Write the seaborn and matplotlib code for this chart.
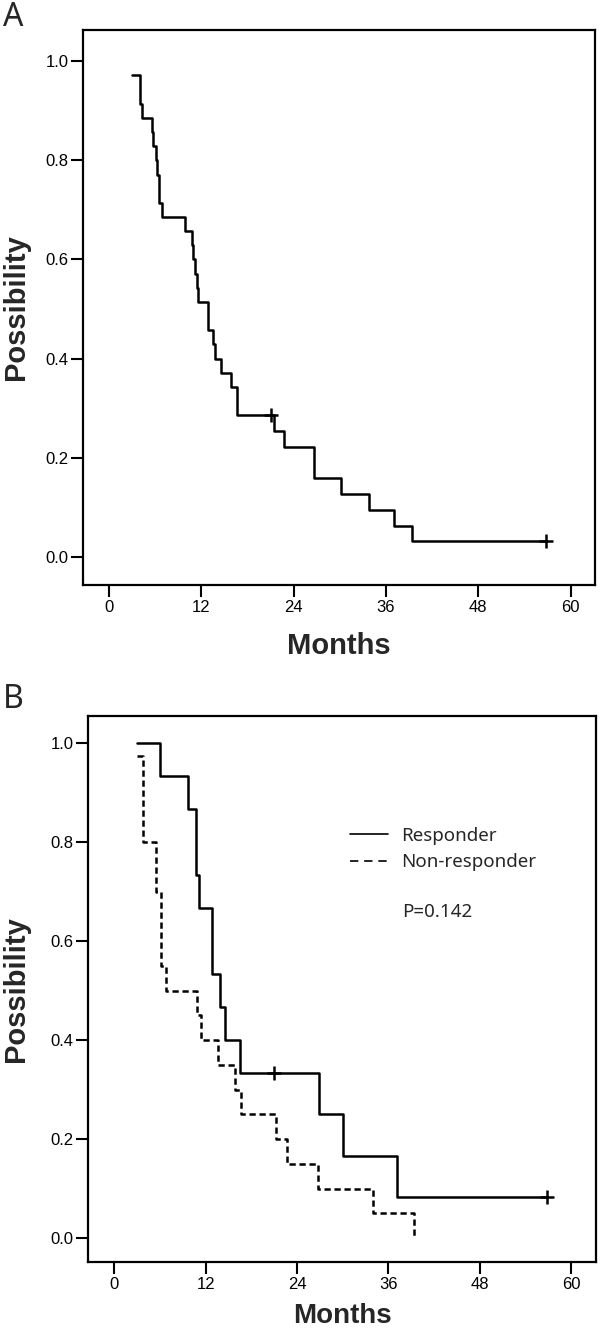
import matplotlib
matplotlib.use("Agg")
import matplotlib.pyplot as plt
import seaborn as sns
import pandas as pd
from matplotlib.lines import Line2D
from matplotlib.ticker import FormatStrFormatter

# panel A: all patients (step times in months, survival after each step)
a_months = [3.0, 4.03, 4.25, 5.55, 5.76, 6.07, 6.28, 6.50, 6.85, 9.88, 10.75, 10.96,
            11.18, 11.40, 11.60, 12.90, 13.48, 13.78, 14.52, 15.85, 16.60, 21.44,
            22.74, 26.68, 30.11, 33.83, 37.08, 39.42, 56.8]
a_surv = [0.971, 0.914, 0.886, 0.857, 0.829, 0.800, 0.771, 0.714, 0.686, 0.657, 0.629,
          0.600, 0.571, 0.543, 0.514, 0.457, 0.429, 0.400, 0.371, 0.343, 0.286, 0.254,
          0.222, 0.159, 0.127, 0.095, 0.063, 0.032, 0.032]
a_cens_months = [21.05, 56.8]
a_cens_surv = [0.286, 0.032]

# panel B: responder / non-responder
r_months = [3.0, 5.98, 9.75, 10.80, 11.14, 12.90, 13.86, 14.59, 16.49, 26.91, 30.07, 37.08, 56.79]
r_surv = [1.0, 0.933, 0.867, 0.733, 0.667, 0.533, 0.467, 0.400, 0.333, 0.250, 0.167, 0.083, 0.083]
r_cens_months = [20.96, 56.79]
r_cens_surv = [0.333, 0.083]

n_months = [3.0, 3.78, 5.45, 6.20, 6.77, 10.93, 11.46, 13.64, 15.83, 16.62, 21.31, 22.63,
            26.70, 33.93, 39.40]
n_surv = [0.975, 0.80, 0.70, 0.55, 0.50, 0.45, 0.40, 0.35, 0.30, 0.25, 0.20, 0.15,
          0.10, 0.05, 0.0]

x_ticks = [0, 12, 24, 36, 48, 60]
y_ticks = [0.0, 0.2, 0.4, 0.6, 0.8, 1.0]
p_text = "P=0.142"

sns.set_theme(style="ticks")
plt.rcParams["font.family"] = ["Liberation Sans", "DejaVu Sans"]

W, H = 600, 1332
fig = plt.figure(figsize=(W / 100, H / 100), dpi=100)
axA = fig.add_axes([83 / W, 1 - 585 / H, 512 / W, 555 / H])
axB = fig.add_axes([88 / W, 1 - 1262 / H, 508 / W, 546 / H])

LW = 1.8


def km(ax, months, surv, dashed=False):
    df = pd.DataFrame({"Months": months, "Possibility": surv})
    kw = dict(linestyle=(0, (2.5, 1.5))) if dashed else {}
    sns.lineplot(data=df, x="Months", y="Possibility", ax=ax, color="black",
                 linewidth=LW, drawstyle="steps-post", estimator=None, sort=False, **kw)


def censor(ax, months, surv):
    df = pd.DataFrame({"Months": months, "Possibility": surv})
    sns.scatterplot(data=df, x="Months", y="Possibility", ax=ax, marker="+",
                    s=110, color="black", linewidth=1.8, zorder=5)


def style(ax, xlim, ylim, xlab_y, ylab_x, xlab_size=21):
    ax.set_xlim(xlim)
    ax.set_ylim(ylim)
    ax.set_xticks(x_ticks)
    ax.set_yticks(y_ticks)
    ax.yaxis.set_major_formatter(FormatStrFormatter("%.1f"))
    ax.tick_params(direction="out", length=8.5, width=1.5, labelsize=12, pad=2,
                   color="black", labelcolor="black")
    for s in ax.spines.values():
        s.set_linewidth(1.6)
        s.set_color("black")
    ax.set_xlabel("Months", fontsize=xlab_size, fontweight="bold", va="center")
    ax.set_ylabel("Possibility", fontsize=21, fontweight="bold", va="center")
    ax.xaxis.set_label_coords(0.5, xlab_y)
    ax.yaxis.set_label_coords(ylab_x, 0.5)


km(axA, a_months, a_surv)
censor(axA, a_cens_months, a_cens_surv)
style(axA, (-3.38, 63.16), (-0.056, 1.0625), (585 - 646) / 555, (16 - 83) / 512)

km(axB, r_months, r_surv)
km(axB, n_months, n_surv, dashed=True)
censor(axB, r_cens_months, r_cens_surv)
style(axB, (-3.44, 63.27), (-0.048, 1.055), (1262 - 1316) / 546, (16 - 88) / 508,
      xlab_size=20)

handles = [Line2D([], [], color="black", linewidth=1.2),
           Line2D([], [], color="black", linewidth=1.2, linestyle=(0, (5, 3.5)))]
leg = axB.legend(handles, ["Responder", "Non-responder"], loc="upper left",
                 bbox_to_anchor=(350 / W, 1 - 827 / H), bbox_transform=fig.transFigure,
                 frameon=False, borderpad=0, borderaxespad=0, handlelength=2.0,
                 handletextpad=0.75, labelspacing=0.45,
                 prop={"family": ["Noto Sans", "DejaVu Sans"], "size": 13.5})
fig.text(401.7 / W, 1 - 911.7 / H, p_text, ha="left", va="center", fontsize=13.5,
         family=["Noto Sans", "DejaVu Sans"])

fig.text(3 / W, 1 - 1 / H, "A", ha="left", va="top", fontsize=23,
         family=["Noto Sans", "DejaVu Sans"])
fig.text(3 / W, 1 - 700 / H, "B", ha="left", va="center", fontsize=23,
         family=["Noto Sans", "DejaVu Sans"])

fig.savefig("out.png", dpi=100, facecolor="white")
